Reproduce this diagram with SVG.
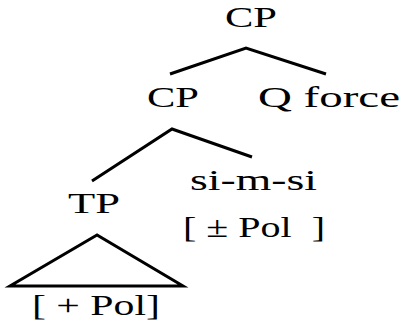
<svg xmlns="http://www.w3.org/2000/svg" width="401" height="326" viewBox="0 0 401 326">
<style>
.edge{fill:none;stroke:#000;stroke-width:3;stroke-linejoin:miter}
</style>
<rect width="401" height="326" fill="#fff"/>
<g id="connectors">
<polyline class="edge" points="170,74 246,48 326,74"/>
<polyline class="edge" points="92,181 172,129 252,157"/>
</g>
<g font-family="Liberation Serif" font-size="30" fill="#000">
<g id="cp-top"><text x="225" y="27" textLength="52" lengthAdjust="spacingAndGlyphs">CP</text></g>
<g id="cp"><text x="147" y="107" textLength="52" lengthAdjust="spacingAndGlyphs">CP</text></g>
<g id="qforce"><text x="258" y="107" textLength="142" lengthAdjust="spacingAndGlyphs">Q force</text></g>
<g id="tp"><text x="68" y="213" textLength="52" lengthAdjust="spacingAndGlyphs">TP</text></g>
<g id="simsi">
<text x="190" y="190" textLength="127" lengthAdjust="spacingAndGlyphs">si-m-si</text>
<text x="183" y="237" textLength="142" lengthAdjust="spacingAndGlyphs" xml:space="preserve">[ ± Pol  ]</text>
</g>
<g id="tp-content">
<polygon class="edge" points="97,235 10,286 183,286"/>
<text x="32" y="315" textLength="128" lengthAdjust="spacingAndGlyphs">[ + Pol]</text>
</g>
</g>
</svg>
